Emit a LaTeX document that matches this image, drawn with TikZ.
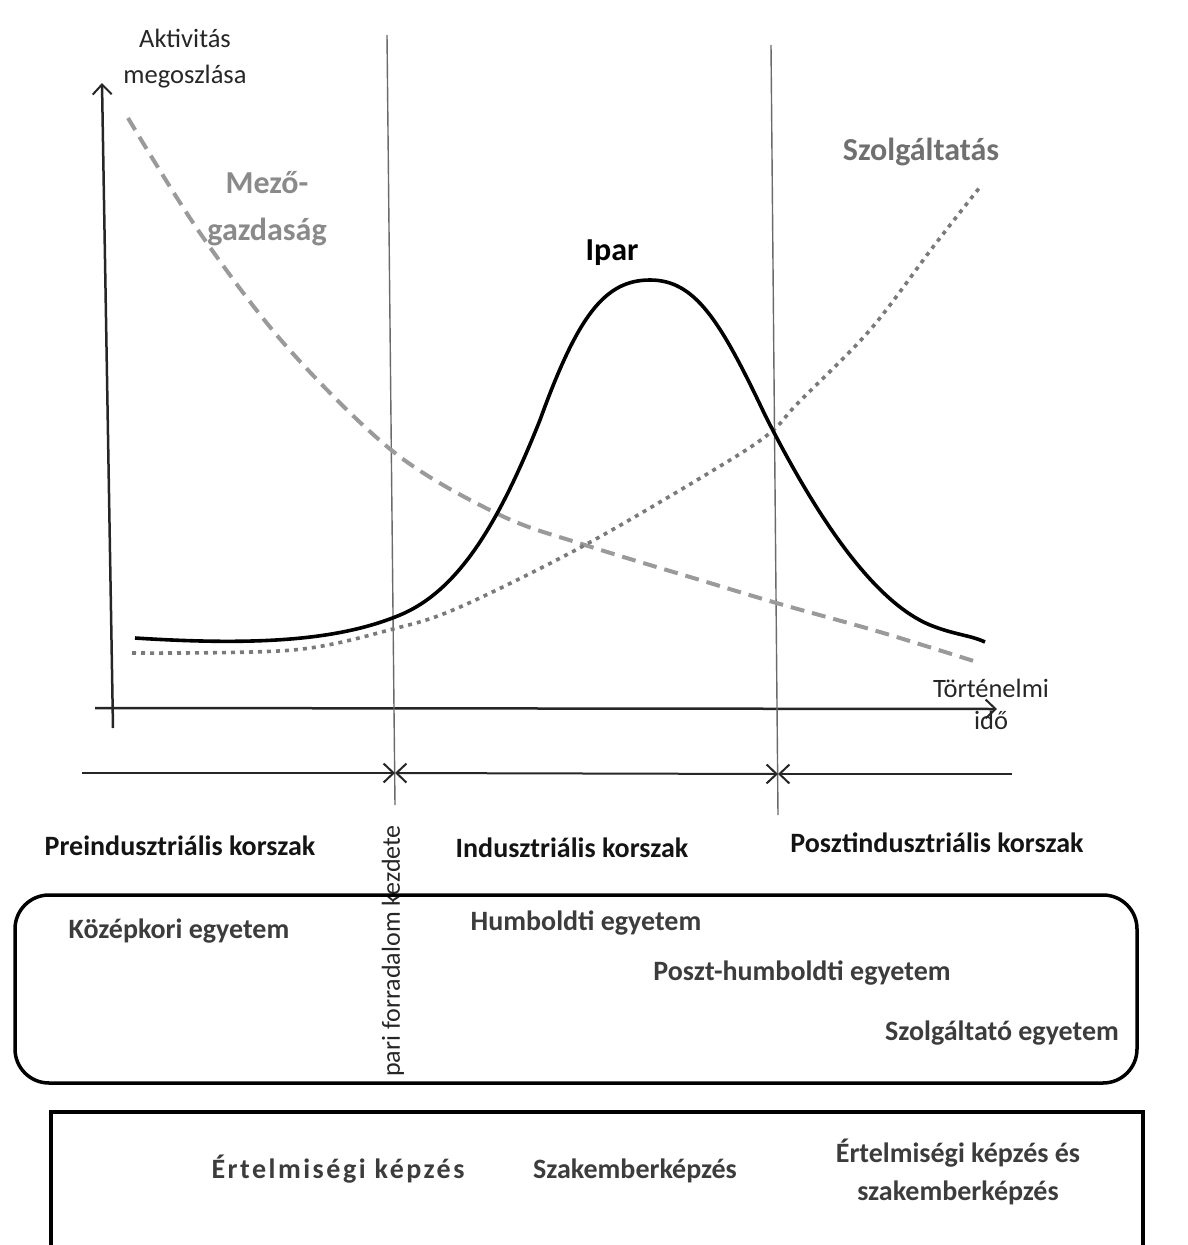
\documentclass[tikz,border=0pt]{standalone}
\usepackage{fontspec}
\setmainfont{Carlito}
\usetikzlibrary{arrows.meta}
\definecolor{agri}{HTML}{9A9A9A}
\definecolor{agritext}{HTML}{8A8A8A}
\definecolor{serv}{HTML}{7A7A7A}
\definecolor{servtext}{HTML}{707070}
\definecolor{unitext}{HTML}{3C3C3C}
\definecolor{vl}{HTML}{6A6A6A}
\begin{document}
\begin{tikzpicture}[x=1pt,y=-1pt,
  barb/.tip={Straight Barb[length=10pt,width=19pt,line width=2pt]},
  axisline/.style={line width=2.5pt, draw=black!85},
  periodline/.style={line width=2pt, draw=black!85},
  vline/.style={line width=1.4pt, draw=vl},
  small/.style={inner sep=0pt, anchor=base, font=\fontsize{26.5}{30}\selectfont, text=black!85},
  big/.style={inner sep=0pt, anchor=base, font=\bfseries\fontsize{32}{36}\selectfont},
  head/.style={inner sep=0pt, anchor=base, font=\bfseries\fontsize{28}{32}\selectfont, text=black!92},
  uni/.style={inner sep=0pt, anchor=base, font=\bfseries\fontsize{28}{32}\selectfont, text=unitext},
]
\useasboundingbox (0,0) rectangle (1187,1245);

% axes
\coordinate (yb) at (113,728);
\coordinate (yt) at (102,83);
\coordinate (xl) at (95,708);
\coordinate (xr) at (997,709);
\draw[axisline, -{barb}] (yb) -- (yt);
\draw[axisline, -{barb}] (xl) -- (xr);

% period dividers
\coordinate (v1t) at (387,35);
\coordinate (v1b) at (395,805);
\coordinate (v2t) at (771,45);
\coordinate (v2b) at (778,815);
\draw[vline] (v1t) -- (v1b);
\draw[vline] (v2t) -- (v2b);

% period arrows
\coordinate (pa) at (82,773);
\coordinate (pb) at (395,773);
\coordinate (pc) at (778,774);
\coordinate (pd) at (1012,774);
\draw[periodline, -{barb}] (pa) -- (pb);
\draw[periodline, {barb}-{barb}] (pb) -- (pc);
\draw[periodline, {barb}-] (pc) -- (pd);

% curves
\draw[line width=4pt, agri, dash pattern=on 14pt off 8pt]
  plot[smooth, tension=0.55] coordinates {(128,118) (200,233) (287,347) (395,453) (500,515) (585,545) (700,580) (780,604) (880,632) (980,663)};
\draw[line width=3.6pt, serv, dash pattern=on 4pt off 5pt]
  plot[smooth, tension=0.55] coordinates {(132,653) (293,650) (393,629) (460,607) (585,545) (717,468) (770,433) (798,403) (870,330) (933,247) (980,187)};
\draw[line width=3.6pt, black]
  (135,638) .. controls (260,646) and (340,640) .. (400,615)
  .. controls (460,590) and (500,520) .. (540,420)
  .. controls (578,315) and (605,280) .. (650,280)
  .. controls (695,280) and (720,320) .. (765,415)
  .. controls (812,508) and (870,600) .. (930,625)
  .. controls (955,635) and (970,635) .. (985,642);

% axis labels
\node[small] (ya1) at (185,47) {Aktivitás};
\node[small] (ya2) at (185,83) {megoszlása};
\node[small] (xa1) at (991,697) {Történelmi};
\node[small] (xa2) at (991,729) {idő};

% curve labels
\node[big, text=agritext] (mg1) at (267,193) {Mező-};
\node[big, text=agritext] (mg2) at (267,240) {gazdaság};
\node[big, text=servtext] (szo) at (921,160) {Szolgáltatás};
\node[big, text=black] (ipar) at (612,260) {Ipar};

% periods
\node[head] (pre) at (180,855) {Preindusztriális korszak};
\node[head] (ind) at (572,857) {Indusztriális korszak};
\node[head] (post) at (937,852) {Posztindusztriális korszak};
\node[inner sep=0pt, rotate=90, font=\fontsize{26}{30}\selectfont, text=black!85] (ipf) at (393,951) {pari forradalom kezdete};

% universities
\draw[line width=3.5pt, rounded corners=34pt] (15,895) rectangle (1137,1083);
\node[uni] (kozep) at (179,938) {Középkori egyetem};
\node[uni] (humb) at (586,930) {Humboldti egyetem};
\node[uni] (poszt) at (802,980) {Poszt-humboldti egyetem};
\node[uni] (szolgegy) at (1002,1040) {Szolgáltató egyetem};

% training
\draw[line width=4pt] (51,1245) -- (51,1112) -- (1143,1112) -- (1143,1245);
\node[uni, font=\bfseries\fontsize{28}{32}\selectfont\addfontfeatures{LetterSpace=9}] (ert) at (338,1178) {Értelmiségi képzés};
\node[uni] (szak) at (635,1178) {Szakemberképzés};
\node[uni] (ert2) at (958,1162) {Értelmiségi képzés és};
\node[uni] (szak2) at (958,1200) {szakemberképzés};
\end{tikzpicture}
\end{document}
